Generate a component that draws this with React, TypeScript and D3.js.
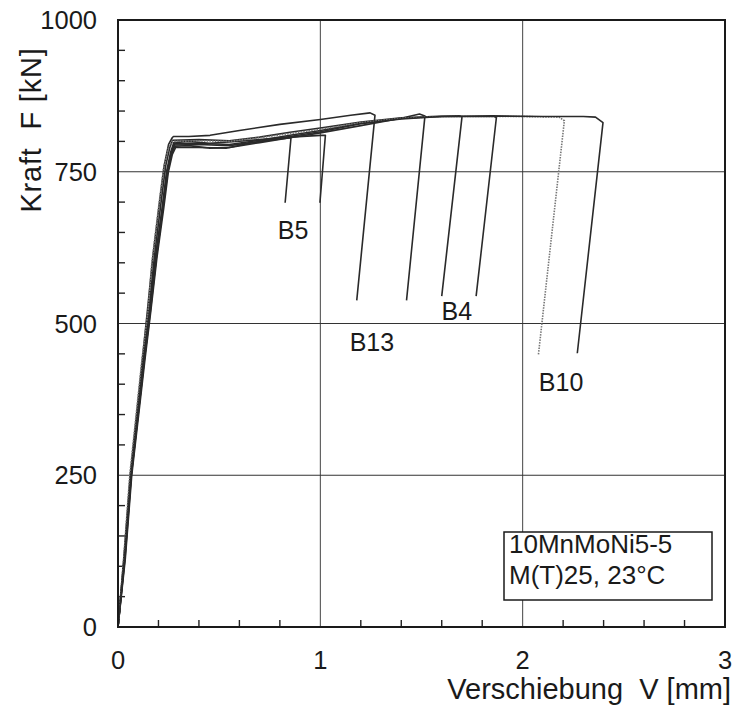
import React from "react";
import * as d3 from "d3";

// ---- data ----
const xTicks = [0, 1, 2, 3];
const yTicks = [0, 250, 500, 750, 1000];
const xMinorTicks = [0.2, 0.4, 0.6, 0.8, 1.2, 1.4, 1.6, 1.8, 2.2, 2.4, 2.6, 2.8];
const yMinorTicks = [50, 100, 150, 200, 300, 350, 400, 450, 550, 600, 650, 700, 800, 850, 900, 950];

const curveB5a: [number, number][] = [
  [0, 0], [0.035, 115], [0.066, 250], [0.13, 440], [0.158, 520], [0.19, 610], [0.222, 690],
  [0.245, 750], [0.265, 780], [0.282, 792], [0.35, 793], [0.45, 789], [0.55, 790], [0.65, 797],
  [0.75, 802], [0.855, 806], [0.826, 699],
];
const curveB5b: [number, number][] = [
  [0, 0], [0.032, 115], [0.064, 250], [0.127, 440], [0.155, 520], [0.185, 610], [0.218, 690],
  [0.24, 750], [0.26, 782], [0.276, 798], [0.35, 800], [0.45, 797], [0.55, 799], [0.7, 803],
  [0.85, 807], [1.0, 810], [1.025, 810], [0.998, 699],
];
const curveB13a: [number, number][] = [
  [0, 0], [0.03, 118], [0.06, 250], [0.12, 440], [0.145, 520], [0.172, 610], [0.205, 700],
  [0.228, 760], [0.25, 795], [0.268, 806], [0.274, 808], [0.35, 808], [0.455, 810], [0.6, 818],
  [0.8, 828], [1.0, 836], [1.15, 843], [1.246, 847], [1.27, 843], [1.18, 538],
];
const curveB13b: [number, number][] = [
  [0, 0], [0.036, 112], [0.068, 250], [0.133, 440], [0.162, 520], [0.193, 610], [0.226, 690],
  [0.249, 750], [0.268, 778], [0.285, 790], [0.4, 790], [0.537, 789], [0.7, 798], [0.85, 806],
  [1.0, 814], [1.2, 826], [1.4, 838], [1.49, 845], [1.517, 842], [1.426, 538],
];
const curveB4a: [number, number][] = [
  [0, 0], [0.034, 115], [0.065, 250], [0.128, 440], [0.157, 520], [0.188, 610], [0.22, 690],
  [0.243, 750], [0.262, 780], [0.279, 796], [0.4, 797], [0.55, 795], [0.7, 802], [0.85, 810],
  [1.0, 818], [1.2, 830], [1.4, 838], [1.55, 841], [1.69, 842], [1.7, 840], [1.6, 545],
];
const curveB4b: [number, number][] = [
  [0, 0], [0.031, 117], [0.062, 250], [0.124, 440], [0.152, 520], [0.18, 610], [0.213, 700],
  [0.236, 760], [0.256, 790], [0.27, 802], [0.4, 803], [0.55, 801], [0.7, 807], [0.85, 815],
  [1.0, 822], [1.2, 832], [1.4, 839], [1.6, 841], [1.86, 841], [1.87, 839], [1.77, 545],
];
const curveB10a: [number, number][] = [
  [0, 0], [0.029, 118], [0.058, 250], [0.118, 440], [0.148, 520], [0.167, 600], [0.2, 690],
  [0.225, 755], [0.25, 790], [0.27, 800], [0.4, 801], [0.55, 800], [0.7, 806], [0.85, 813],
  [1.0, 820], [1.2, 831], [1.4, 838], [1.6, 841], [1.8, 841], [2.0, 841], [2.18, 840],
  [2.206, 834], [2.078, 449],
];
const curveB10b: [number, number][] = [
  [0, 0], [0.033, 116], [0.065, 250], [0.13, 440], [0.16, 520], [0.19, 610], [0.222, 690],
  [0.246, 750], [0.265, 782], [0.28, 794], [0.4, 795], [0.55, 793], [0.7, 800], [0.85, 808],
  [1.0, 816], [1.2, 829], [1.4, 837], [1.6, 841], [1.85, 842], [2.1, 841], [2.3, 841],
  [2.36, 840], [2.397, 831], [2.27, 451],
];

const specimenCurves = [
  { name: "B5a", points: curveB5a, dotted: false },
  { name: "B5b", points: curveB5b, dotted: false },
  { name: "B13a", points: curveB13a, dotted: false },
  { name: "B13b", points: curveB13b, dotted: false },
  { name: "B4a", points: curveB4a, dotted: false },
  { name: "B4b", points: curveB4b, dotted: false },
  { name: "B10a", points: curveB10a, dotted: true },
  { name: "B10b", points: curveB10b, dotted: false },
];

const specimenLabels: { text: string; x: number; y: number }[] = [
  { text: "B5", x: 0.865, y: 654 },
  { text: "B13", x: 1.255, y: 470 },
  { text: "B4", x: 1.675, y: 520 },
  { text: "B10", x: 2.19, y: 404 },
];

const boxLines = ["10MnMoNi5-5", "M(T)25, 23°C"];
const xTitle = "Verschiebung  V [mm]";
const yTitle = "Kraft  F [kN]";

// ---- layout ----
const W = 737;
const H = 716;
const left = 118;
const right = 725;
const top = 20;
const bottom = 627;
const font = "'Liberation Sans', Arial, Helvetica, sans-serif";

export default function App() {
  const x = d3.scaleLinear().domain([0, 3]).range([left, right]);
  const y = d3.scaleLinear().domain([0, 1000]).range([bottom, top]);
  const line = d3
    .line<[number, number]>()
    .x((d) => x(d[0]))
    .y((d) => y(d[1]))
    .curve(d3.curveLinear);

  return (
    <svg
      width={W}
      height={H}
      style={{ position: "absolute", left: 0, top: 0, background: "#fff" }}
      fontFamily={font}
    >
      <rect x={0} y={0} width={W} height={H} fill="#fff" />
      <defs>
        <clipPath id="plotclip">
          <rect x={left} y={top} width={right - left} height={bottom - top} />
        </clipPath>
      </defs>
      {/* grid */}
      {xTicks.filter((t) => t > 0 && t < 3).map((t) => (
        <line key={"gx" + t} x1={x(t)} x2={x(t)} y1={top} y2={bottom} stroke="#444" strokeWidth={1} />
      ))}
      {yTicks.filter((t) => t > 0 && t < 1000).map((t) => (
        <line key={"gy" + t} x1={left} x2={right} y1={y(t)} y2={y(t)} stroke="#333" strokeWidth={1.1} />
      ))}
      {/* minor ticks */}
      {xMinorTicks.map((t) => (
        <line key={"mx" + t} x1={x(t)} x2={x(t)} y1={bottom} y2={bottom - 7} stroke="#222" strokeWidth={1.4} />
      ))}
      {yMinorTicks.map((t) => (
        <line key={"my" + t} x1={left} x2={left + 7} y1={y(t)} y2={y(t)} stroke="#222" strokeWidth={1.4} />
      ))}
      {/* curves */}
      <g clipPath="url(#plotclip)">
        {specimenCurves.map((c) => (
          <path
            key={c.name}
            d={line(c.points) || ""}
            fill="none"
            stroke={c.dotted ? "#777" : "#2a2a2a"}
            strokeWidth={c.dotted ? 1.6 : 1.6}
            strokeDasharray={c.dotted ? "1.5,1.2" : undefined}
            strokeLinejoin="round"
          />
        ))}
      </g>
      {/* frame */}
      <rect x={left} y={top} width={right - left} height={bottom - top} fill="none" stroke="#1a1a1a" strokeWidth={2} />
      {/* tick labels */}
      {xTicks.map((t) => (
        <text key={"tx" + t} x={x(t)} y={669} textAnchor="middle" fontSize={25.5} fill="#1a1a1a">
          {t}
        </text>
      ))}
      {yTicks.map((t) => (
        <text key={"ty" + t} x={97} y={y(t) + 9} textAnchor="end" fontSize={25.5} fill="#1a1a1a">
          {t}
        </text>
      ))}
      {/* axis titles */}
      <text x={731} y={699} textAnchor="end" fontSize={29} fill="#1a1a1a" style={{ whiteSpace: "pre" }}>
        {xTitle}
      </text>
      <text
        transform={`translate(41,130) rotate(-90)`}
        textAnchor="middle"
        fontSize={29}
        letterSpacing={0.8}
        fill="#1a1a1a"
        style={{ whiteSpace: "pre" }}
      >
        {yTitle}
      </text>
      {/* specimen labels */}
      {specimenLabels.map((l) => (
        <text key={l.text} x={x(l.x)} y={y(l.y) + 9} textAnchor="middle" fontSize={25} fill="#1a1a1a">
          {l.text}
        </text>
      ))}
      {/* annotation box */}
      <rect x={504} y={532} width={208} height={68} fill="#fff" stroke="#1a1a1a" strokeWidth={1.5} />
      {boxLines.map((t, i) => (
        <text key={t} x={509} y={553 + i * 31} fontSize={26} fill="#1a1a1a">
          {t}
        </text>
      ))}
    </svg>
  );
}
